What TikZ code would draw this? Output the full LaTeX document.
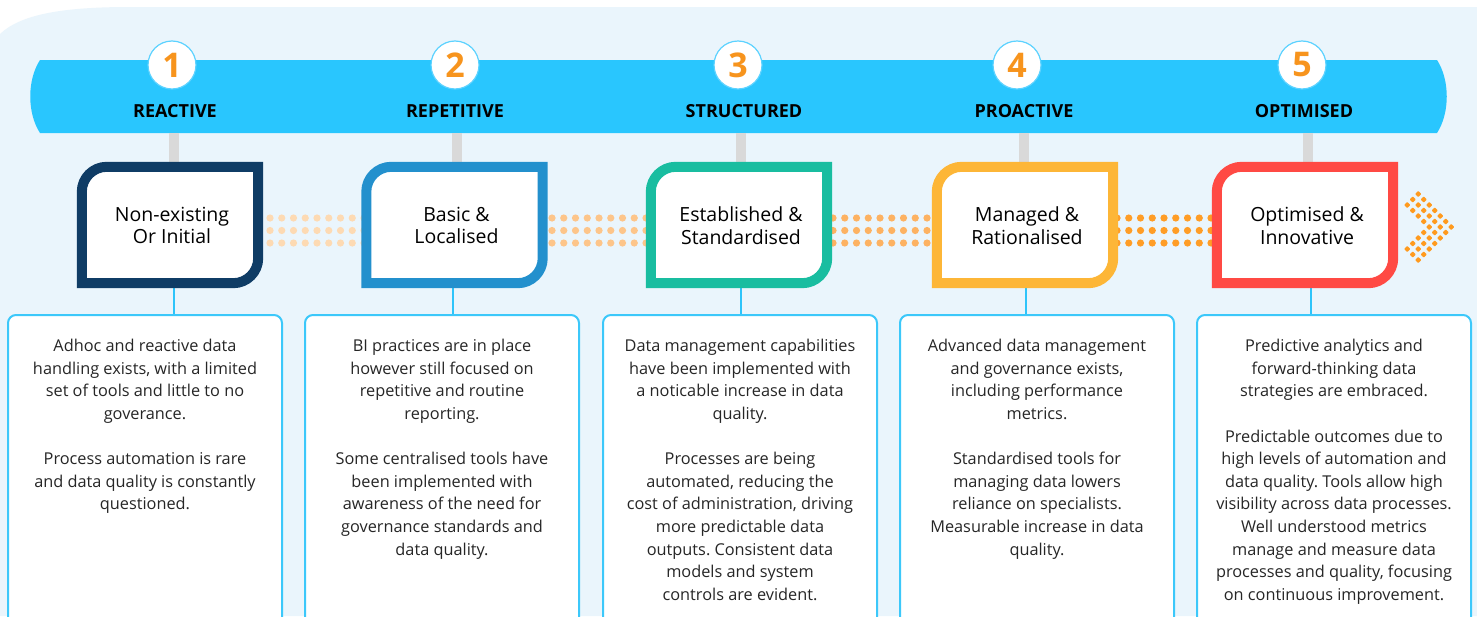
\documentclass[tikz,border=0pt]{standalone}
\usepackage{fontspec}
\setmainfont{Open Sans}
\frenchspacing
\definecolor{bgblue}{HTML}{EAF5FC}
\definecolor{banner}{HTML}{29C6FE}
\definecolor{ringblue}{HTML}{5CD2FF}
\definecolor{numorange}{HTML}{F7941D}
\definecolor{stubgrey}{HTML}{D9D9D9}
\definecolor{linkblue}{HTML}{2EC4FA}
\definecolor{tboxblue}{HTML}{3CC8FA}
\definecolor{bodytext}{HTML}{262626}
\definecolor{cA}{HTML}{0F3C65}
\definecolor{cB}{HTML}{2390CD}
\definecolor{cC}{HTML}{19BDA0}
\definecolor{cD}{HTML}{FDB637}
\definecolor{cE}{HTML}{FF4A44}
\definecolor{dotA}{HTML}{FDDAB3}
\definecolor{dotB}{HTML}{FDC58A}
\definecolor{dotC}{HTML}{FDB262}
\definecolor{dotD}{HTML}{FF9D26}
\definecolor{chev}{HTML}{FF9A1E}
\begin{document}
\begin{tikzpicture}[x=1pt,y=-1pt,
  numcircle/.style={circle, fill=white, draw=ringblue, line width=1.2pt, minimum size=48pt, inner sep=0pt,
    text=numorange, font=\fontsize{34}{34}\selectfont\bfseries},
  lab/.style={anchor=base, inner sep=0pt, text=black, font=\fontsize{18}{20}\selectfont\bfseries},
  stub/.style={draw=stubgrey, line width=10pt},
  link/.style={draw=linkblue, line width=2pt},
  stageframe/.style={minimum width=176pt, minimum height=116pt, inner sep=0pt},
  stagetext/.style={align=center, inner sep=0pt, text=black, font=\fontsize{19.5}{22.5}\selectfont},
  tbox/.style={draw=tboxblue, fill=white, line width=2pt, rounded corners=8pt,
    minimum width=274pt, minimum height=345pt, inner sep=0pt},
  body/.style={anchor=north, align=center, inner sep=0pt, text=bodytext,
    font=\fontsize{16.3}{22.6}\selectfont\frenchspacing, execute at begin node=\strut}
]
\useasboundingbox (0,0) rectangle (1477,616);
\clip (0,0) rectangle (1477,616);
\fill[white] (0,0) rectangle (1477,616);
% background panel
\fill[bgblue] (0,34) .. controls (20,15) and (60,7) .. (130,7) -- (1477,7) -- (1477,616) -- (0,616) -- cycle;
% banner
\fill[banner] (40,60) -- (1437,60) .. controls (1450,80) and (1450,113) .. (1437,133)
  -- (40,133) .. controls (27,113) and (27,80) .. (40,60) -- cycle;
% number circles and labels
\foreach \i/\x in {1/172,2/455,3/738,4/1017,5/1302}
  \node[numcircle] (n\i) at (\x,65) {\i};
\node[lab] (l1) at (175,117) {REACTIVE};
\node[lab] (l2) at (455,117) {REPETITIVE};
\node[lab] (l3) at (744,117) {STRUCTURED};
\node[lab] (l4) at (1024,117) {PROACTIVE};
\node[lab] (l5) at (1304,117) {OPTIMISED};
% stage frames (anchors)
\foreach \i/\x in {1/170,2/454.5,3/739,4/1025,5/1305}
  \node[stageframe] (b\i) at (\x,225) {};
% grey stubs
\foreach \i/\x in {1/174,2/457,3/741,4/1024,5/1308}{
  \coordinate (s\i) at (\x,133);
  \draw[stub] (s\i) -- (s\i |- b\i.north);
}
% dotted connectors
\foreach \s/\col in {270/dotA,552/dotB,833/dotC,1117/dotD}
  \foreach \k in {0,...,8}
    \foreach \yy in {218,230.5,243}
      \fill[\col] (\s+\k*11.75,\yy) circle[radius=3.6pt];
% chevron
\foreach \c/\r in {2/0,1/1,3/1,0/2,2/2,4/2,1/3,3/3,5/3,2/4,4/4,6/4,3/5,5/5,7/5,4/6,6/6,8/6,
                   3/7,5/7,7/7,2/8,4/8,6/8,1/9,3/9,5/9,0/10,2/10,4/10,1/11,3/11,2/12}
  \fill[chev, rounded corners=0.6pt] (1407.3+5.5*\c,194+5.5*\r) +(0,-3.1) -- +(3.1,0) -- +(0,3.1) -- +(-3.1,0) -- cycle;
% text boxes
\foreach \i/\x in {1/145,2/442,3/740,4/1037,5/1334}
  \node[tbox] (t\i) at (\x,487.5) {};
% blue links
\foreach \i/\x in {1/174,2/453,3/741,4/1026,5/1311}{
  \coordinate (c\i) at (\x,300);
  \draw[link] (c\i |- b\i.south) -- (c\i |- t\i.north);
}
% stage boxes
\foreach \i/\col in {1/cA,2/cB,3/cC,4/cD,5/cE}
  \filldraw[fill=white, draw=\col, line width=10pt]
    ([yshift=-25pt]b\i.north west) arc[start angle=180, end angle=90, radius=25pt]
    -- (b\i.north east) -- ([yshift=25pt]b\i.south east)
    arc[start angle=0, end angle=-90, radius=25pt] -- (b\i.south west) -- cycle;
\node[stagetext] (h1) at ([xshift=2pt,yshift=-0.5pt]b1.center) {Non-existing\\Or Initial};
\node[stagetext] (h2) at ([xshift=2pt,yshift=-0.5pt]b2.center) {Basic \&\\Localised};
\node[stagetext] (h3) at ([xshift=2pt,yshift=-0.5pt]b3.center) {Established \&\\Standardised};
\node[stagetext] (h4) at ([xshift=2pt,yshift=-0.5pt]b4.center) {Managed \&\\Rationalised};
\node[stagetext] (h5) at ([xshift=2pt,yshift=-0.5pt]b5.center) {Optimised \&\\Innovative};
% body texts
\node[body] (x1) at (145,339.2) {Adhoc and reactive data\\handling exists, with a limited\\set of tools and little to no\\goverance.\\[22.6pt]Process automation is rare\\and data quality is constantly\\questioned.};
\node[body] (x2) at (442,339.2) {BI practices are in place\\however still focused on\\repetitive and routine\\reporting.\\[22.6pt]Some centralised tools have\\been implemented with\\awareness of the need for\\governance standards and\\data quality.};
\node[body] (x3) at (740,339.2) {Data management capabilities\\have been implemented with\\a noticable increase in data\\quality.\\[22.6pt]Processes are being\\automated, reducing the\\cost of administration, driving\\more predictable data\\outputs. Consistent data\\models and system\\controls are evident.};
\node[body] (x4) at (1037,339.2) {Advanced data management\\and governance exists,\\including performance\\metrics.\\[22.6pt]Standardised tools for\\managing data lowers\\reliance on specialists.\\Measurable increase in data\\quality.};
\node[body] (x5) at (1334,339.2) {Predictive analytics and\\forward-thinking data\\strategies are embraced.\\[22.6pt]Predictable outcomes due to\\high levels of automation and\\data quality. Tools allow high\\visibility across data processes.\\Well understood metrics\\manage and measure data\\processes and quality, focusing\\on continuous improvement.};
\end{tikzpicture}
\end{document}
